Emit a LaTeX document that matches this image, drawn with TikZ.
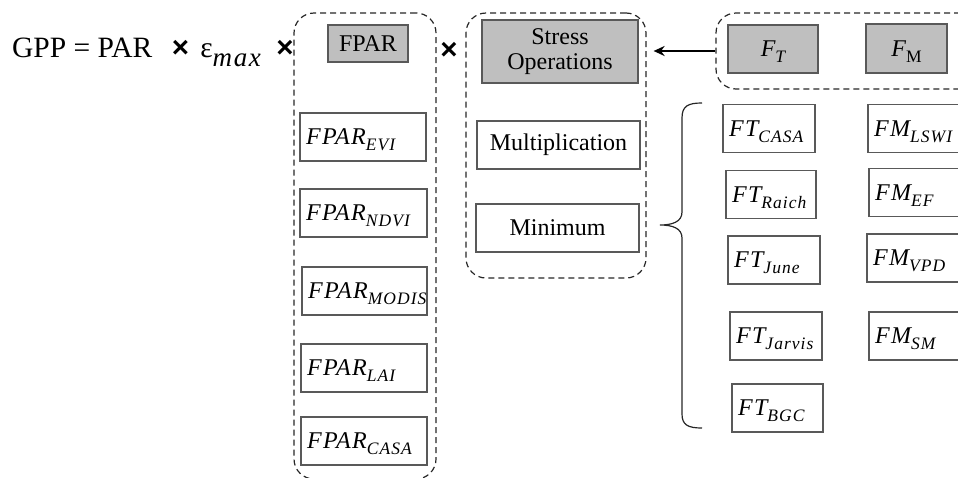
\RequirePackage{fix-cm}
\documentclass[tikz,border=0pt]{standalone}
\usepackage{fontspec}
\setmainfont{Liberation Serif}
\newfontfamily\crossfont{Liberation Sans}
\newfontfamily\labfont[LetterSpace=6]{Liberation Serif}
\usetikzlibrary{arrows.meta}

\newcommand{\bx}{{\crossfont\bfseries ×}}
\newcommand{\lblfont}{\fontsize{24}{25}\selectfont}
\newcommand{\bigfont}{\fontsize{29.5}{33}\selectfont}
% italic label with a lowered index
\newcommand{\lab}[3][\itshape]{{\labfont\itshape\fontsize{24}{26}\selectfont#2\raisebox{-6pt}[\height][0pt]{\fontsize{17.5}{17.5}\selectfont#1#3}}}

\begin{document}
\begin{tikzpicture}[x=1pt, y=-1pt,
    grp/.style={draw=black!85, line width=1.2pt, dash pattern=on 6pt off 4pt, rounded corners=20pt, inner sep=0pt},
    box/.style={draw=black!65, line width=1.1pt, inner sep=0pt, font=\lblfont},
    shaded/.style={box, fill=black!25},
    lbl/.style={box, minimum height=48pt, text width=#1, align=left, inner xsep=6pt}]
    \useasboundingbox (0,0) rectangle (958,477);
    \clip (0,0) rectangle (958,477);

    % dashed groups
    \node[grp, minimum width=142pt, minimum height=466pt] (fparset) at (365,246) {};
    \node[grp, minimum width=180pt, minimum height=265pt] (stressset) at (556,145.5) {};
    \node[grp, minimum width=264pt, minimum height=76pt] (fset) at (848,51) {};

    % equation
    \node[anchor=base west, inner sep=0pt, font=\bigfont] (gpp) at (12,57)
      {GPP = PAR\hspace{12pt} \bx\hspace{4pt} ε\raisebox{-9pt}{\labfont\itshape\fontsize{27}{27}\selectfont max}\hspace{8pt} \bx};
    \node[inner sep=0pt, font=\bigfont] (times) at (449,51) {\bx};

    \node[shaded, minimum width=80pt, minimum height=37pt] (fpar) at (368,43.5) {FPAR};
    \node[shaded, minimum width=156pt, minimum height=63pt, align=center] (stress) at (560,51.5) {Stress\\Operations};
    \node[shaded, minimum width=90pt, minimum height=48pt] (ft) at (773,49) {\lab{F}{T}};
    \node[shaded, minimum width=81pt, minimum height=49pt] (fm) at (906.5,48.5) {\lab[\upshape]{F}{M}};

    \node[box, minimum width=163pt, minimum height=48pt] (mult) at (558.5,145) {Multiplication};
    \node[box, minimum width=163pt, minimum height=48pt] (minm) at (557.5,228) {Minimum};

    % FPAR variants
    \node[lbl=114pt] (evi) at (363,137) {\lab{FPAR}{EVI}};
    \node[lbl=115pt] (ndvi) at (363.5,213) {\lab{FPAR}{NDVI}};
    \node[lbl=113pt] (modis) at (364.5,291) {\lab{FPAR}{MODIS}};
    \node[lbl=114pt] (lai) at (364,368) {\lab{FPAR}{LAI}};
    \node[lbl=114pt] (casa) at (364,441) {\lab{FPAR}{CASA}};

    % temperature and moisture stress
    \node[lbl=80pt] (ftcasa) at (769,128.5) {\lab{FT}{CASA}};
    \node[lbl=78pt] (ftraich) at (771,194.5) {\lab{FT}{Raich}};
    \node[lbl=80pt] (ftjune) at (774,260) {\lab{FT}{June}};
    \node[lbl=80pt] (ftjarvis) at (776,336) {\lab{FT}{Jarvis}};
    \node[lbl=79pt] (ftbgc) at (777.5,408) {\lab{FT}{BGC}};
    \node[lbl=82pt] (fmlswi) at (915,128.5) {\lab{FM}{LSWI}};
    \node[lbl=81pt] (fmef) at (915.5,192.5) {\lab{FM}{EF}};
    \node[lbl=83pt] (fmvpd) at (914.5,258) {\lab{FM}{VPD}};
    \node[lbl=81pt] (fmsm) at (915.5,336) {\lab{FM}{SM}};

    \draw[-{Stealth[length=11pt,width=10pt]}, line width=2.8pt, shorten >=7pt] (fset.west) -- (fset.west -| stressset.east);

    % brace over the stress functions
    \coordinate (bracetop) at (702,103);
    \coordinate (bracetip) at (660,225);
    \coordinate (bracebot) at (702,428);
    \draw[line width=1.2pt, black!85] (bracetop) .. controls (688,103) and (682,106) .. (682,118) -- (682,212)
      .. controls (682,222) and (672,225) .. (bracetip) .. controls (672,225) and (682,228) .. (682,238)
      -- (682,414) .. controls (682,425) and (688,428) .. (bracebot);
\end{tikzpicture}
\end{document}
